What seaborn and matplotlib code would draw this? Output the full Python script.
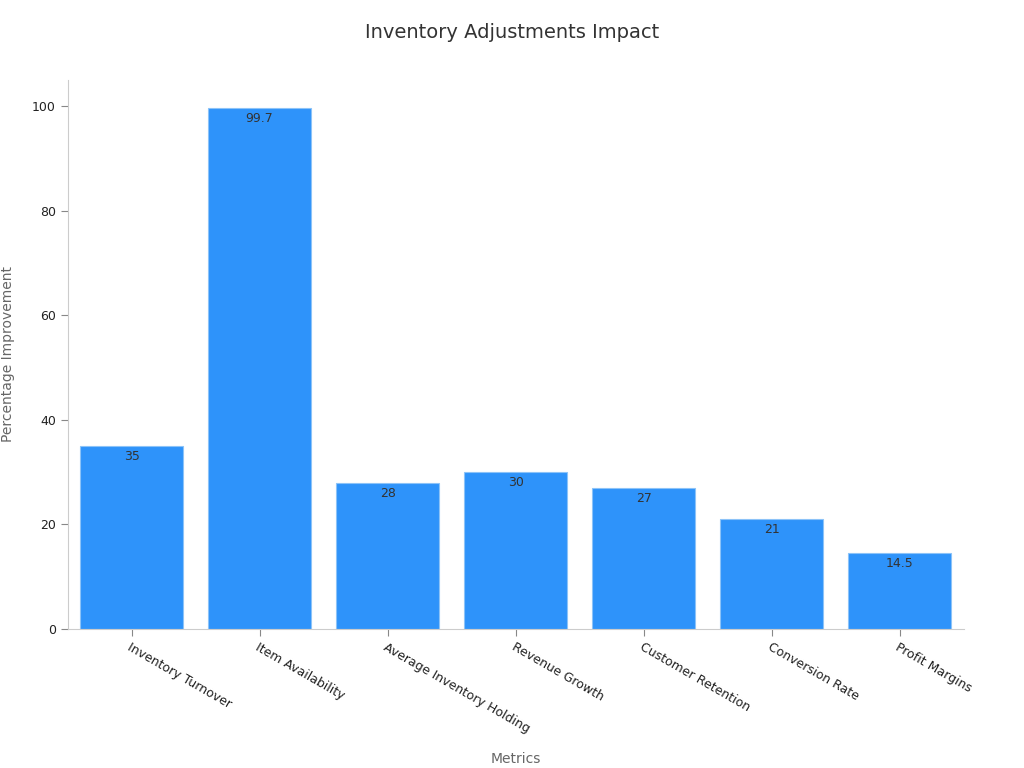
import matplotlib
matplotlib.use("Agg")
import matplotlib.pyplot as plt
import seaborn as sns
import pandas as pd

categories = ["Inventory Turnover", "Item Availability", "Average Inventory Holding",
              "Revenue Growth", "Customer Retention", "Conversion Rate", "Profit Margins"]
values = [35, 99.7, 28, 30, 27, 21, 14.5]
labels = ["35", "99.7", "28", "30", "27", "21", "14.5"]

df = pd.DataFrame({"Metrics": categories, "Value": values})
fig = plt.figure(figsize=(10.24, 7.68), dpi=100)
ax = fig.add_axes([0.066, 0.181, 0.875, 0.715])
sns.barplot(data=df, x="Metrics", y="Value", color="#2E93FA", saturation=1,
            width=0.8, edgecolor="#8cc3f8", linewidth=0.8, ax=ax)
for p, lab in zip(ax.patches, labels):
    ax.text(p.get_x() + p.get_width() / 2, p.get_height() - 0.8, lab,
            ha="center", va="top", fontsize=9, color="#333333")
ax.set_ylim(0, 105)
ax.set_xlim(-0.5, 6.5)
ax.set_yticks([0, 20, 40, 60, 80, 100])
for s in ["top", "right"]:
    ax.spines[s].set_visible(False)
for s in ["left", "bottom"]:
    ax.spines[s].set_color("#cccccc")
ax.tick_params(axis="both", colors="#222222", labelsize=9, length=5)
ax.tick_params(axis="both", color="#888888")
plt.setp(ax.get_xticklabels(), rotation=-30, ha="left", rotation_mode="anchor")
ax.set_xlabel("Metrics", fontsize=10, color="#666666", labelpad=12)
ax.set_ylabel("Percentage Improvement", fontsize=10, color="#666666", labelpad=12)
fig.suptitle("Inventory Adjustments Impact", y=0.97, fontsize=14, color="#333333")
fig.savefig("out.png", dpi=100)
